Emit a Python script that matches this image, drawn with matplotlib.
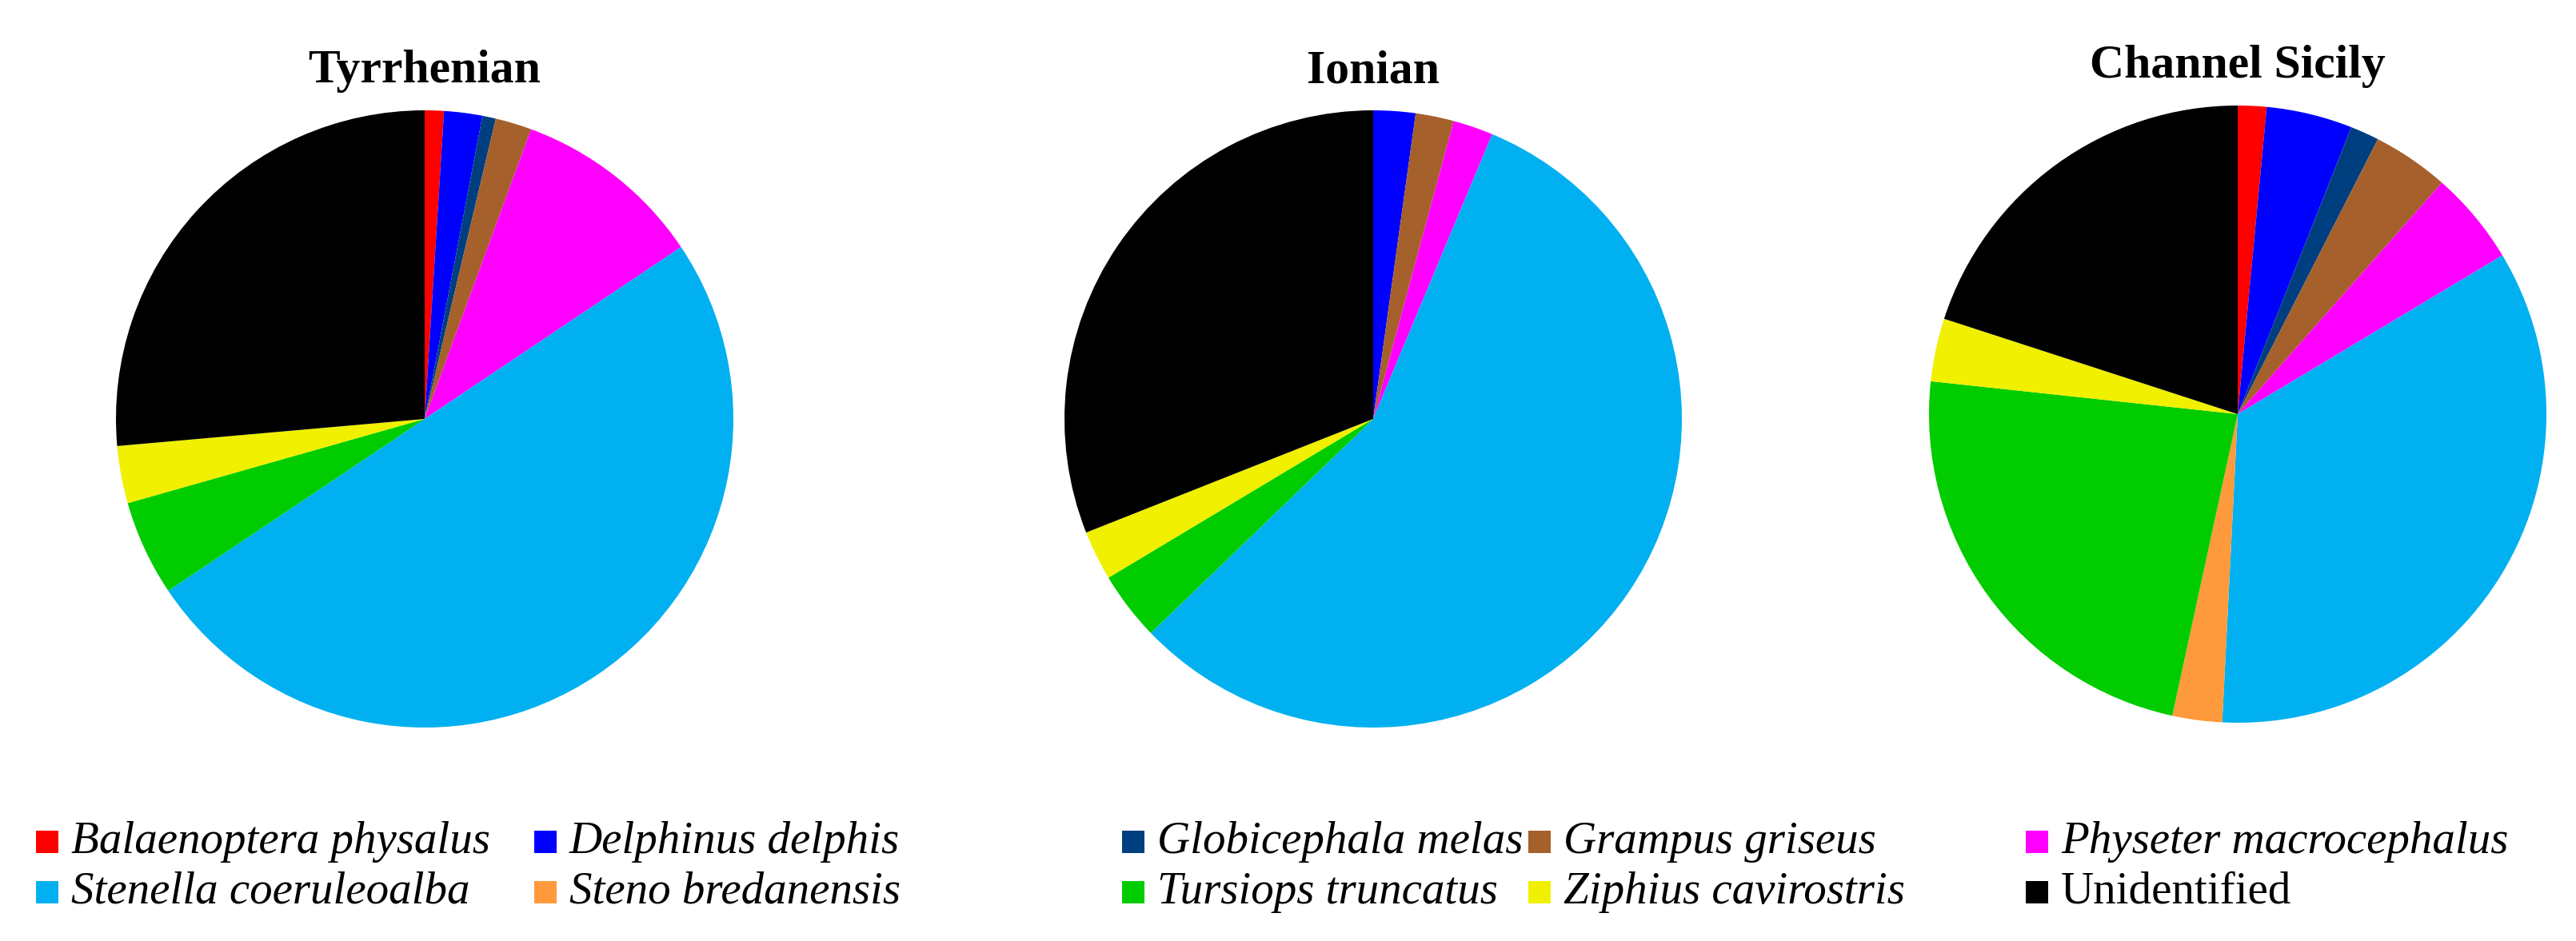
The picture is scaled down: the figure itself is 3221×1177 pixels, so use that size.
import matplotlib
matplotlib.use("Agg")
import matplotlib.pyplot as plt
from matplotlib.patches import Rectangle

species = ["Balaenoptera physalus", "Delphinus delphis", "Globicephala melas", "Grampus griseus",
           "Physeter macrocephalus", "Stenella coeruleoalba", "Steno bredanensis", "Tursiops truncatus",
           "Ziphius cavirostris", "Unidentified"]
colors = ["#ff0000", "#0000ff", "#003f7f", "#a5602c", "#ff00ff", "#00b0f0", "#ff9a3c", "#00cc00", "#f0f000", "#000000"]
regions = ["Tyrrhenian", "Ionian", "Channel Sicily"]
tyrrhenian = [1.0, 2.0, 0.7, 1.9, 10.0, 50.0, 0.0, 5.0, 3.0, 26.4]
ionian = [0.0, 2.2, 0.0, 2.0, 2.1, 56.5, 0.0, 3.6, 2.6, 31.0]
sicily = [1.5, 4.5, 1.5, 4.0, 4.9, 34.4, 2.6, 23.3, 3.3, 20.0]
values = [tyrrhenian, ionian, sicily]

W, H = 3221, 1177
fig = plt.figure(figsize=(W/100, H/100), dpi=100)
plt.rcParams['font.family'] = ['Liberation Serif', 'DejaVu Serif']

centers = [(531, 524), (1717, 524), (2798, 518)]
R = 386
for (cx, cy), name, vals in zip(centers, regions, values):
    ax = fig.add_axes([(cx-R)/W, (H-cy-R)/H, 2*R/W, 2*R/H])
    ax.pie(vals, colors=colors, startangle=90, counterclock=False,
           wedgeprops=dict(linewidth=0))
    ax.set_aspect('equal')
    ax.set_xlim(-1, 1); ax.set_ylim(-1, 1)
    fig.text(cx/W, (H-cy+R+22)/H, name, ha='center', va='bottom', fontsize=43, fontweight='bold')

col_x = [45, 668, 1403, 1911, 2533]
row_y = [1053, 1116]
for i, (sp, c) in enumerate(zip(species, colors)):
    r, col = divmod(i, 5)
    x, y = col_x[col], row_y[r]
    fig.patches.append(Rectangle((x/W, (H-y-14)/H), 28/W, 28/H, transform=fig.transFigure,
                                 facecolor=c, edgecolor='none'))
    fig.text((x+44)/W, (H-y)/H, sp, ha='left', va='center', fontsize=41,
             style='normal' if sp == "Unidentified" else 'italic')

fig.savefig("out.png", dpi=100)
